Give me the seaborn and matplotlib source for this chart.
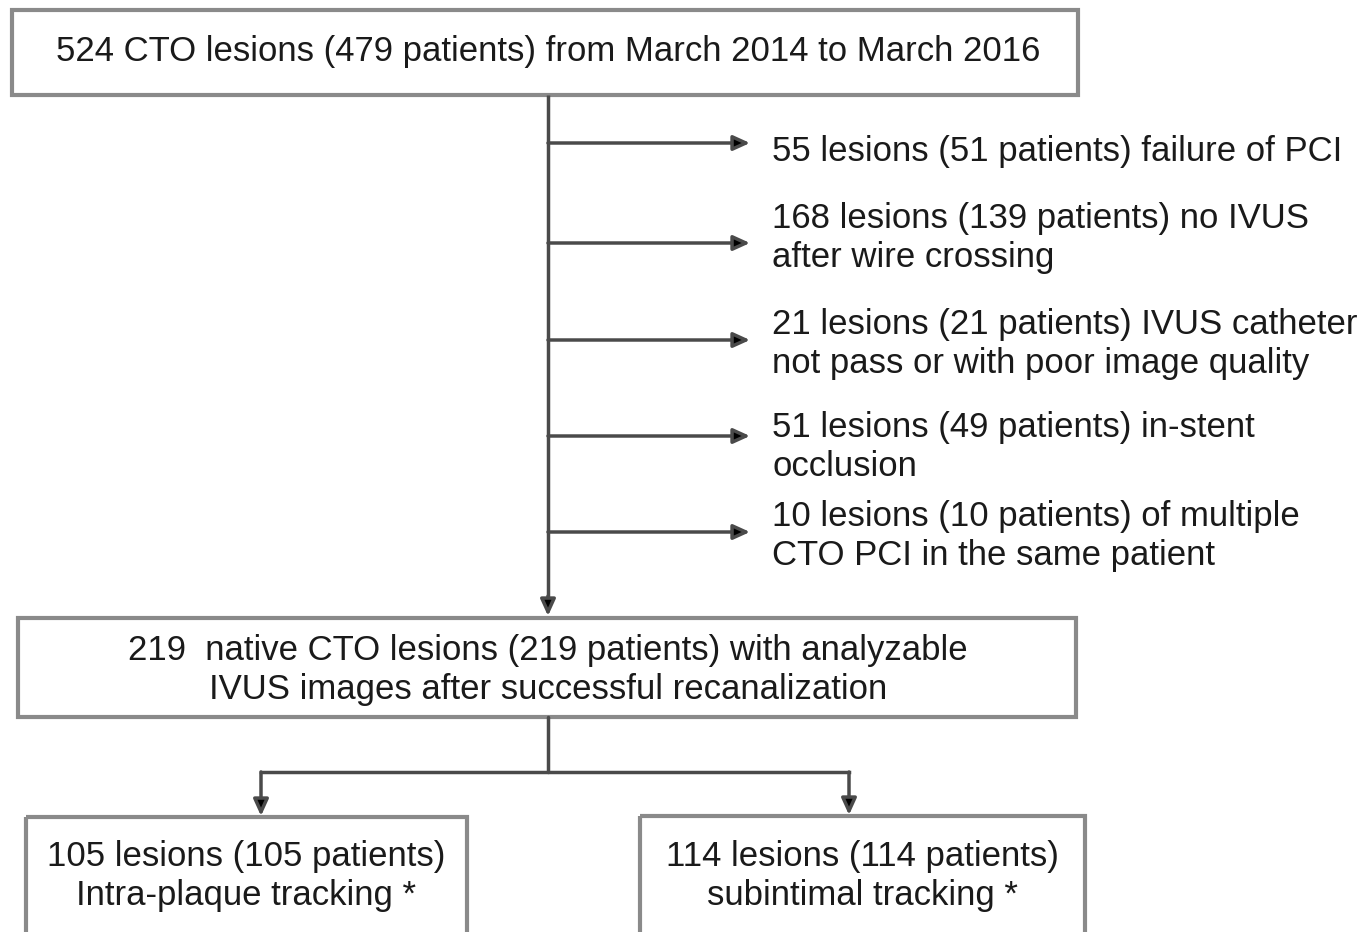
import matplotlib
matplotlib.use("Agg")
import matplotlib.pyplot as plt
import seaborn as sns
from matplotlib.patches import Rectangle

# texts of the flow chart
top_text = "524 CTO lesions (479 patients) from March 2014 to March 2016"
exclusions = [
    "55 lesions (51 patients) failure of PCI",
    "168 lesions (139 patients) no IVUS\nafter wire crossing",
    "21 lesions (21 patients) IVUS catheter\nnot pass or with poor image quality",
    "51 lesions (49 patients) in-stent\nocclusion",
    "10 lesions (10 patients) of multiple\nCTO PCI in the same patient",
]
middle_text = "219  native CTO lesions (219 patients) with analyzable\nIVUS images after successful recanalization"
groups = [
    "105 lesions (105 patients)\nIntra-plaque tracking *",
    "114 lesions (114 patients)\nsubintimal tracking *",
]

# layout (pixels)
W, H = 1364, 932
branch_y = [143, 243, 340, 436, 532]
label_y = [151, 238, 344, 447, 536]
spine_x = 548
arrow_end = 750
label_x = 772
group_boxes = [(26, 817, 441, 130), (640, 816, 445, 130)]
group_x = [261, 849]

BOX_EC = "#8a8a8a"
LINE_C = "#4a4a4a"
TXT_C = "#1a1a1a"
FS = 25
LS = 1.22

sns.set_theme(style="white")
plt.rcParams["font.family"] = ["Liberation Sans", "DejaVu Sans"]

fig = plt.figure(figsize=(W / 100, H / 100), dpi=100)
ax = fig.add_axes([0, 0, 1, 1])
ax.set_xlim(0, W)
ax.set_ylim(H, 0)
ax.axis("off")


def box(x, y, w, h):
    ax.add_patch(Rectangle((x, y), w, h, fill=False, ec=BOX_EC, lw=3))


def arrow(x0, y0, x1, y1):
    ax.annotate("", xy=(x1, y1), xytext=(x0, y0),
                arrowprops=dict(arrowstyle="-|>,head_length=0.55,head_width=0.25",
                                color=LINE_C, fc="black", lw=2.5,
                                shrinkA=0, shrinkB=0, mutation_scale=18))


# top box
box(12, 10, 1066, 85)
ax.text(548, 52, top_text, ha="center", va="center", fontsize=FS, color=TXT_C)

# main spine with exclusions
ax.plot([spine_x, spine_x], [95, 600], color=LINE_C, lw=2.5, solid_capstyle="butt")
arrow(spine_x, 596, spine_x, 616)
for by, ly, txt in zip(branch_y, label_y, exclusions):
    arrow(spine_x, by, arrow_end, by)
    ax.text(label_x, ly, txt, ha="left", va="center", fontsize=FS,
            color=TXT_C, linespacing=LS)

# middle box
box(18, 618, 1058, 99)
ax.text(548, 670, middle_text, ha="center", va="center", fontsize=FS,
        color=TXT_C, linespacing=LS)

# split to two groups
ax.plot([spine_x, spine_x], [717, 772], color=LINE_C, lw=2.5)
ax.plot([group_x[0], group_x[1]], [772, 772], color=LINE_C, lw=2.5, solid_capstyle="projecting")
for gx, (bx, by, bw, bh), txt in zip(group_x, group_boxes, groups):
    arrow(gx, 772, gx, by - 1)
    box(bx, by, bw, bh)
    ax.text(bx + bw / 2, 876, txt, ha="center", va="center", fontsize=FS,
            color=TXT_C, linespacing=LS)

fig.savefig("out.png", dpi=100, facecolor="white")
